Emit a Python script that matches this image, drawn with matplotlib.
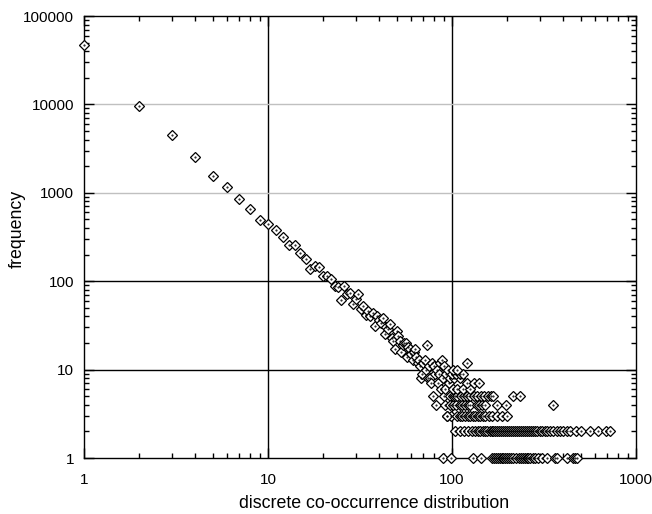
import numpy as np
import matplotlib.pyplot as plt

plt.rcParams['font.family'] = ['Liberation Sans', 'DejaVu Sans']

# counts 1..19, one point each
head_x = list(range(1, 20))
head_y = [47400, 9480, 4460, 2530, 1530, 1150, 845, 664, 495, 446,
          380, 320, 258, 260, 206, 177, 138, 150, 143]

# counts 20..99
mid_x = list(range(20, 100))
mid_y = [116, 116, 106, 89, 85, 62, 89, 72, 74, 55,
         63, 72, 48, 52, 42, 46, 40, 44, 31, 40,
         36, 34, 38, 25, 30, 29, 33, 23, 21, 17,
         27, 24, 21, 16, 19, 20, 20, 14, 18, 17,
         15, 13, 16, 17, 14, 12, 13, 11, 8, 9,
         12, 13, 10, 19, 8, 11, 8, 7, 12, 5,
         11, 9, 4, 10, 7, 9, 12, 6, 13, 8,
         5, 11, 6, 9, 3, 10, 7, 5, 8, 3]

# tail: low frequencies at large counts
tail = {
    1: [89, 99, 130, 143, 165, 170, 174, 178, 182, 186, 190, 195, 200,
        204, 210, 215, 222, 230, 236, 242, 248, 255, 260, 266, 275, 283,
        295, 310, 330, 365, 372, 420, 452, 468, 478],
    2: [104, 110, 116, 122, 128, 133, 138, 142, 147, 151, 155, 160, 164,
        168, 172, 176, 180, 185, 190, 195, 200, 205, 210, 215, 220, 226,
        232, 238, 244, 250, 256, 262, 268, 275, 282, 290, 300, 310, 320,
        330, 342, 355, 370, 385, 400, 420, 440, 470, 500, 565, 625, 690, 725],
    3: [94, 106, 110, 114, 118, 122, 126, 130, 134, 138, 142, 147, 152,
        158, 165, 175, 186, 198],
    4: [92, 97, 101, 105, 110, 114, 118, 122, 125, 137, 141, 146, 151,
        176, 196, 355],
    5: [101, 104, 107, 112, 116, 120, 126, 131, 137, 144, 150, 156, 162,
        167, 214, 234],
    6: [101, 106, 115, 125],
    7: [120, 132, 140],
    8: [103, 110],
    9: [100, 105, 110, 115],
    10: [101, 107],
    12: [120],
}

xs = head_x + mid_x
ys = head_y + mid_y
for f, counts in tail.items():
    xs += counts
    ys += [f] * len(counts)

fig = plt.figure(figsize=(6.52, 5.14), dpi=100)
ax = fig.add_axes([84 / 652, 1 - 458 / 514, 552 / 652, 442 / 514])

ax.set_xscale('log')
ax.set_yscale('log')
ax.set_xlim(1, 1000)
ax.set_ylim(1, 100000)

for v in [10, 100]:
    ax.axvline(v, color='black', lw=1, zorder=1)
    ax.axhline(v, color='black', lw=1, zorder=1)
for v in [1000, 10000]:
    ax.axhline(v, color='#c0c0c0', lw=1, zorder=1)

ax.plot(xs, ys, 'D', ms=4.8, mfc='white', mec='black', mew=0.9,
        linestyle='none', zorder=3, clip_on=False)
ax.plot(xs, ys, '.', ms=1, color='black', linestyle='none', zorder=4,
        clip_on=False)

ax.set_xticks([1, 10, 100, 1000])
ax.set_xticklabels(['1', '10', '100', '1000'])
ax.set_yticks([1, 10, 100, 1000, 10000, 100000])
ax.set_yticklabels(['1', '10', '100', '1000', '10000', '100000'])
ax.tick_params(which='both', direction='in', top=True, right=True,
               labelsize=11, width=1)
ax.tick_params(which='major', length=7)
ax.tick_params(which='minor', length=3.5)
ax.tick_params(axis='x', which='major', pad=11)
ax.tick_params(axis='y', which='major', pad=7)
for s in ax.spines.values():
    s.set_linewidth(1)

ax.set_xlabel('discrete co-occurrence distribution', fontsize=12.8, va='center')
ax.set_ylabel('frequency', fontsize=12.8, va='center')
ax.xaxis.set_label_coords(0.526, -0.102)
ax.yaxis.set_label_coords(-0.121, 0.518)

fig.savefig('out.png', dpi=100)
